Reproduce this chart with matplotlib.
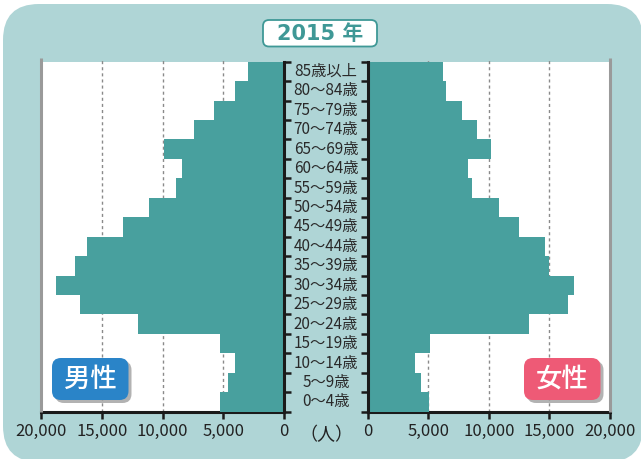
import matplotlib
matplotlib.use("Agg")
import matplotlib.pyplot as plt
from matplotlib.patches import FancyBboxPatch
import matplotlib.transforms as mtransforms

# ---- data ----
age_groups = ["0～4歳", "5～9歳", "10～14歳", "15～19歳", "20～24歳", "25～29歳",
              "30～34歳", "35～39歳", "40～44歳", "45～49歳", "50～54歳", "55～59歳",
              "60～64歳", "65～69歳", "70～74歳", "75～79歳", "80～84歳", "85歳以上"]
male = [5300, 4600, 4050, 5250, 12050, 16800, 18750, 17200, 16200, 13250,
        11150, 8900, 8400, 9900, 7400, 5750, 4000, 2950]
female = [5050, 4400, 3900, 5150, 13300, 16500, 17050, 14950, 14650, 12500,
          10800, 8650, 8300, 10150, 9000, 7750, 6500, 6200]
xticks_left = [20000, 15000, 10000, 5000, 0]
xticks_right = [0, 5000, 10000, 15000, 20000]
tick_labels_left = ["20,000", "15,000", "10,000", "5,000", "0"]
tick_labels_right = ["0", "5,000", "10,000", "15,000", "20,000"]
title = "2015 年"
unit = "（人）"
male_label = "男性"
female_label = "女性"

BG = "#afd5d6"
BAR = "#48a09e"
TEAL_TXT = "#3f9896"
BLUE = "#2a84c8"
PINK = "#ee5a76"
NUMFONT = ["Liberation Sans Narrow", "Noto Sans CJK JP", "DejaVu Sans"]
CJK = ["Noto Sans CJK JP", "DejaVu Sans"]

W, H = 641, 459
fig = plt.figure(figsize=(W / 100, H / 100), dpi=100)
fig.patch.set_facecolor("white")

# background
bg = fig.add_axes([0, 0, 1, 1], zorder=0)
bg.set_xlim(0, W)
bg.set_ylim(H, 0)
bg.axis("off")
bg.add_patch(FancyBboxPatch((3, 4), 640, 458, boxstyle="round,pad=0,rounding_size=36",
                            fc=BG, ec="none"))

top_px, bot_px = 61.7, 411.7
ax_b = (H - bot_px) / H
ax_h = (bot_px - top_px) / H
axL = fig.add_axes([41 / W, ax_b, 243 / W, ax_h], zorder=1)
axR = fig.add_axes([367.7 / W, ax_b, 242.3 / W, ax_h], zorder=1)

n = len(age_groups)
ypos = list(range(n))

for ax, vals, xlim, xt, xtl, outer in [
    (axL, male, (20000, 0), xticks_left, tick_labels_left, "left"),
    (axR, female, (0, 20000), xticks_right, tick_labels_right, "right"),
]:
    ax.set_facecolor("white")
    ax.set_xlim(*xlim)
    ax.set_ylim(0, n)
    ax.barh(ypos, vals, height=1.0, align="edge", color=BAR, linewidth=0, zorder=3)
    for g in (5000, 10000, 15000):
        ax.plot([g, g], [0, 1.012], transform=ax.get_xaxis_transform(), clip_on=False,
                color="#8a8a8a", lw=1.0, ls=(0, (2.2, 2.2)), zorder=2)
    inner = "right" if outer == "left" else "left"
    ax.spines["top"].set_visible(False)
    ax.spines[outer].set_visible(False)
    ox = 0 if outer == "left" else 1
    ax.plot([ox, ox], [0, 1.012], transform=ax.transAxes, clip_on=False,
            color="#9a9a9a", lw=2.2, zorder=4, solid_capstyle="butt")
    ax.spines[inner].set_linewidth(2.2)
    ax.spines[inner].set_color("#1a1a1a")
    ax.spines[inner].set_zorder(5)
    ax.spines["bottom"].set_linewidth(2.2)
    ax.spines["bottom"].set_color("#1a1a1a")
    ax.set_yticks(range(n + 1))
    ax.yaxis.set_ticks_position(inner)
    ax.tick_params(axis="y", direction="out", length=5, width=1.8, color="#1a1a1a",
                   labelleft=False, labelright=False)
    ax.set_xticks(xt)
    ax.set_xticklabels(xtl, fontfamily=NUMFONT, fontsize=12, color="#222222")
    ax.tick_params(axis="x", direction="out", length=5, width=1.8, color="#1a1a1a", pad=3)

# age labels
tr = mtransforms.blended_transform_factory(fig.transFigure, axL.transData)
for i, lab in enumerate(age_groups):
    axL.text(326 / W, i + 0.5, lab, transform=tr, ha="center", va="center",
             fontsize=11, fontfamily=NUMFONT, color="#2a2a2a", clip_on=False)

# overlay
ov = fig.add_axes([0, 0, 1, 1], zorder=5)
ov.set_xlim(0, W)
ov.set_ylim(H, 0)
ov.axis("off")
ov.patch.set_alpha(0)

ov.text(326, 435, unit, ha="center", va="center", fontsize=13, fontfamily=CJK, color="#222222")

# title box
ov.add_patch(FancyBboxPatch((263, 20), 114, 26.5, boxstyle="round,pad=0,rounding_size=6",
                            fc="white", ec=TEAL_TXT, lw=1.3))
ov.text(320, 33.5, title, ha="center", va="center", fontsize=15, fontweight="bold",
        fontfamily=["DejaVu Sans", "Noto Sans CJK JP"], color=TEAL_TXT)

# gender labels
for (x0, col, txt) in [(52, BLUE, male_label), (524, PINK, female_label)]:
    ov.add_patch(FancyBboxPatch((x0 + 3, 361), 76.5, 42, boxstyle="round,pad=0,rounding_size=9",
                                fc="#555555", ec="none", alpha=0.45))
    ov.add_patch(FancyBboxPatch((x0, 358), 76.5, 42, boxstyle="round,pad=0,rounding_size=9",
                                fc=col, ec="none"))
    ov.text(x0 + 38.5, 379, txt, ha="center", va="center", fontsize=19,
            fontfamily=CJK, fontweight="medium", color="white")

fig.savefig("out.png", dpi=100)
